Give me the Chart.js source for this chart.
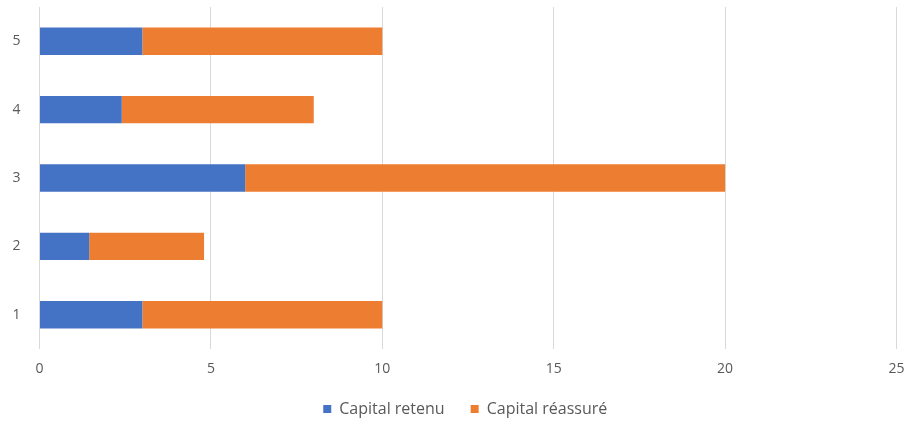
<!DOCTYPE html>
<html>
<head>
<meta charset="utf-8">
<script src="https://cdn.jsdelivr.net/npm/chart.js@4/dist/chart.umd.min.js"></script>
<style>
    html, body { margin: 0; padding: 0; background: #fff; }
    #wrap { width: 906px; height: 427px; }
</style>
</head>
<body>
<div id="wrap"><canvas id="capitalChart"></canvas></div>
<script>
// Capital per risk, split between retained and reinsured
const categories = ['1', '2', '3', '4', '5'];
const capitalRetenu = [3, 1.45, 6, 2.4, 3];
const capitalReassure = [7, 3.35, 14, 5.6, 7];
const xTicks = [0, 5, 10, 15, 20, 25];

const textColor = '#595959';
const gridColor = '#d9d9d9';
const tickFont = { family: 'Open Sans', size: 14 };

// nudge the legend so it sits centred under the plot area rather than the canvas
const legendShift = {
    id: 'legendShift',
    afterLayout(chart) {
        chart.legend.left += 17;
        chart.legend.right += 17;
    }
};

const ctx = document.getElementById('capitalChart').getContext('2d');
new Chart(ctx, {
    type: 'bar',
    data: {
        labels: categories,
        datasets: [{
            label: 'Capital retenu',
            data: capitalRetenu,
            backgroundColor: '#4472c4',
            categoryPercentage: 1,
            barPercentage: 0.4
        }, {
            label: 'Capital réassuré',
            data: capitalReassure,
            backgroundColor: '#ed7d31',
            categoryPercentage: 1,
            barPercentage: 0.4
        }]
    },
    options: {
        indexAxis: 'y',
        responsive: true,
        maintainAspectRatio: false,
        animation: false,
        layout: {
            padding: { top: 7, right: 9.5, left: 0, bottom: 0 }
        },
        plugins: {
            legend: {
                position: 'bottom',
                labels: {
                    color: textColor,
                    font: { family: 'Open Sans', size: 16 },
                    boxWidth: 8,
                    boxHeight: 8,
                    padding: 26
                }
            },
            tooltip: { enabled: false }
        },
        scales: {
            x: {
                stacked: true,
                min: 0,
                max: 25,
                afterBuildTicks: function(scale) {
                    scale.ticks = xTicks.map(v => ({ value: v }));
                },
                afterFit: function(scale) {
                    scale.height = 26;
                    scale.paddingLeft = 0;
                    scale.paddingRight = 0;
                },
                grid: {
                    color: gridColor,
                    drawTicks: false
                },
                border: { display: false },
                ticks: {
                    color: textColor,
                    padding: 12,
                    font: tickFont
                }
            },
            y: {
                stacked: true,
                reverse: true,
                afterFit: function(scale) {
                    scale.width = 39.5;
                    scale.paddingTop = 0;
                    scale.paddingBottom = 0;
                },
                grid: { display: false },
                border: { display: false },
                ticks: {
                    color: textColor,
                    padding: 11,
                    font: tickFont
                }
            }
        }
    },
    plugins: [legendShift]
});
</script>
</body>
</html>
